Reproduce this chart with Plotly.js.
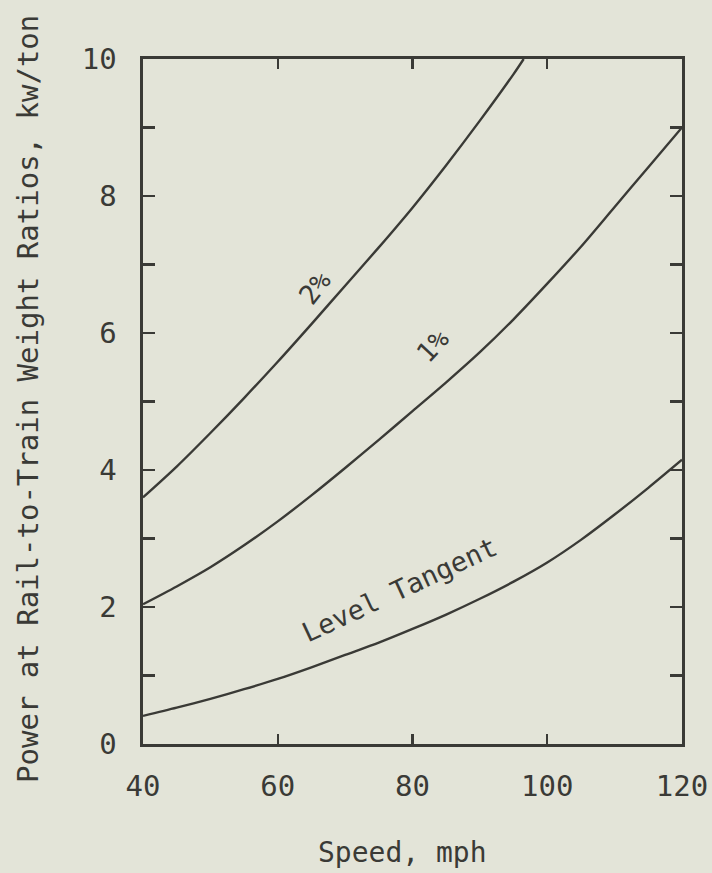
<!DOCTYPE html>
<html>
<head>
<meta charset="utf-8">
<script src="https://cdn.plot.ly/plotly-3.0.1.min.js"></script>
<style>
html,body{margin:0;padding:0;background:#e3e4d8;}
#chart{width:712px;height:873px;}
</style>
</head>
<body>
<div id="chart"></div>
<script>
// Speed (mph) and power at rail-to-train weight ratio (kw/ton)
const speedLevel = [40,45,50,55,60,65,70,75,80,85,90,95,100,105,110,115,120];
const powerLevel = [0.41,0.53,0.66,0.80,0.95,1.12,1.30,1.48,1.68,1.89,2.12,2.37,2.65,2.98,3.35,3.74,4.15];

const speed1pct = [40,45,50,55,60,65,70,75,80,85,90,95,100,105,110,115,120];
const power1pct = [2.04,2.30,2.58,2.90,3.25,3.63,4.03,4.44,4.86,5.28,5.72,6.20,6.72,7.26,7.84,8.42,9.0];

const speed2pct = [40,45,50,55,60,65,70,75,80,85,90,95,96.5];
const power2pct = [3.60,4.05,4.54,5.05,5.58,6.13,6.69,7.25,7.83,8.45,9.10,9.78,10.0];

const xTickVals = [40,60,80,100,120];
const xTickText = ["40","60","80","100","120"];
const yTickVals = [0,1,2,3,4,5,6,7,8,9,10];
const yTickText = ["0","","2","","4","","6","","8","","10"];

const curveLabels = ["2%","1%","Level Tangent"];
const curveLabelX = [65.5, 83.0, 78.1];
const curveLabelY = [6.67, 5.82, 2.25];
const curveLabelAngle = [-52, -47, -25];

const ink = '#3a3a36';
const bg = '#e3e4d8';
const fam = '"DejaVu Sans Mono", monospace';

const lineStyle = {color: ink, width: 2.4, shape: 'spline', smoothing: 0.8};
const traces = [
  {x: speed2pct, y: power2pct, mode: 'lines', line: lineStyle, hoverinfo: 'skip'},
  {x: speed1pct, y: power1pct, mode: 'lines', line: lineStyle, hoverinfo: 'skip'},
  {x: speedLevel, y: powerLevel, mode: 'lines', line: lineStyle, hoverinfo: 'skip'}
];

const annotations = curveLabels.map((t, i) => ({
  x: curveLabelX[i], y: curveLabelY[i], xref: 'x', yref: 'y',
  text: t, showarrow: false, textangle: curveLabelAngle[i],
  xanchor: 'center', yanchor: 'middle',
  font: {family: fam, size: 27, color: ink}
}));
annotations.push({
  xref: 'paper', yref: 'paper', x: -0.213, y: 0.504,
  xanchor: 'center', yanchor: 'middle',
  text: 'Power at Rail-to-Train Weight Ratios, kw/ton',
  showarrow: false, textangle: -90,
  font: {family: fam, size: 29, color: ink}
});
annotations.push({
  xref: 'paper', yref: 'paper', x: 0.481, y: -0.158,
  xanchor: 'center', yanchor: 'middle',
  text: 'Speed, mph',
  showarrow: false,
  font: {family: fam, size: 28, color: ink}
});

const layout = {
  width: 712, height: 873,
  margin: {l: 143, r: 30, t: 59, b: 129},
  paper_bgcolor: bg, plot_bgcolor: bg,
  showlegend: false,
  font: {family: fam, size: 28, color: ink},
  xaxis: {
    range: [40, 120], tickvals: xTickVals, ticktext: xTickText,
    ticks: 'inside', ticklen: 10, tickwidth: 2.2, tickcolor: ink,
    showline: true, linecolor: ink, linewidth: 2.6, mirror: 'ticks',
    showgrid: false, zeroline: false,
    ticklabelstandoff: 15,
    tickfont: {family: fam, size: 29, color: ink}
  },
  yaxis: {
    range: [0, 10], tickvals: yTickVals, ticktext: yTickText,
    ticks: 'inside', ticklen: 12, tickwidth: 2.2, tickcolor: ink,
    showline: true, linecolor: ink, linewidth: 2.6, mirror: 'ticks',
    showgrid: false, zeroline: false,
    ticklabelstandoff: 18,
    tickfont: {family: fam, size: 29, color: ink}
  },
  annotations: annotations
};

Plotly.newPlot('chart', traces, layout, {staticPlot: true, displayModeBar: false});
</script>
</body>
</html>
